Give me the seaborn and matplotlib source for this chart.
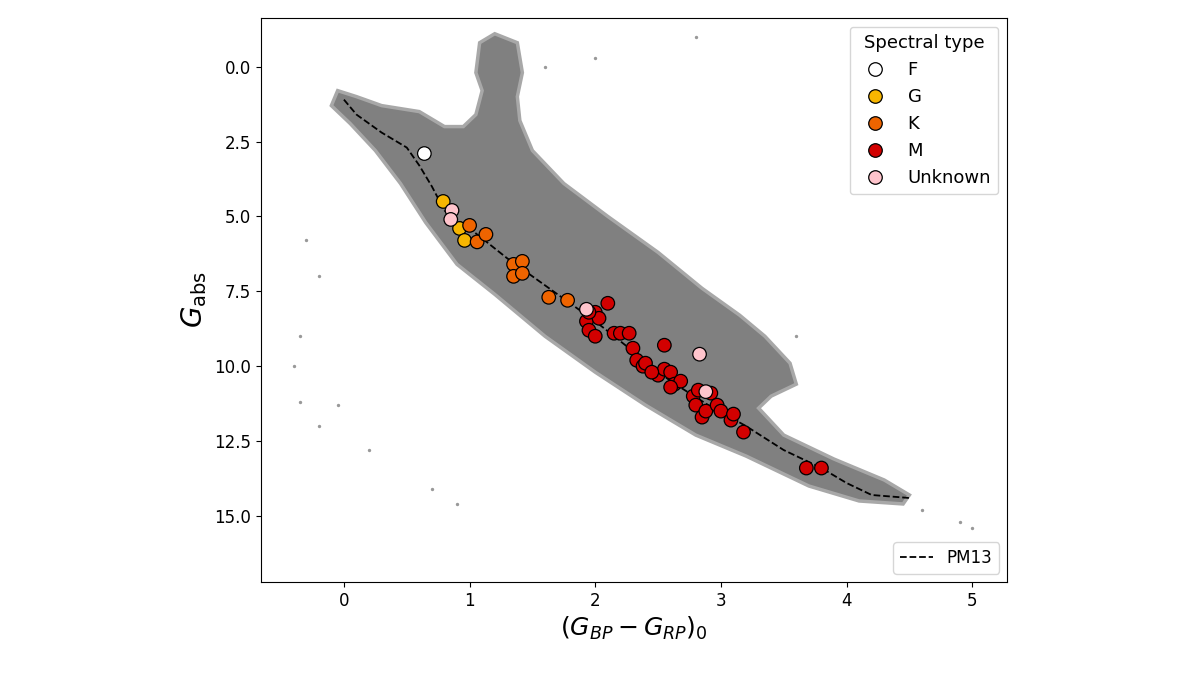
import matplotlib
matplotlib.use("Agg")
import matplotlib.pyplot as plt
import seaborn as sns
import pandas as pd

# outline of the gray background star cloud (colour, G_abs)
cloud_x = [-0.05,0.1,0.3,0.6,0.8,0.95,1.05,1.1,1.05,1.08,1.2,1.38,1.42,1.38,1.4,1.5,1.75,2.1,2.5,2.85,3.15,3.35,3.55,3.6,3.4,3.3,3.5,3.9,4.3,4.5,4.45,4.1,3.7,3.2,2.8,2.4,2.0,1.6,1.2,0.9,0.65,0.45,0.25,0.05,-0.1]
cloud_y = [0.8,1.0,1.3,1.5,2.0,2.0,1.6,0.8,0.2,-0.8,-1.1,-0.8,0.2,1.0,1.8,2.8,3.9,5.0,6.2,7.4,8.3,9.0,9.9,10.6,11.0,11.4,12.3,13.1,13.8,14.3,14.6,14.5,14.0,13.0,12.3,11.3,10.2,9.0,7.6,6.6,5.2,3.9,2.8,1.9,1.3]
# sparse outlying field stars
out_x = [-0.4,-0.35,-0.2,-0.05,-0.3,-0.2,-0.35,0.2,0.7,0.9,4.9,5.0,1.6,2.0,2.8,3.6,4.6]
out_y = [10.0,11.2,12.0,11.3,5.8,7.0,9.0,12.8,14.1,14.6,15.2,15.4,0.0,-0.3,-1.0,9.0,14.8]

# PM13 sequence
pm_x = [0.0,0.1,0.3,0.5,0.6,0.7,0.8,1.0,1.3,1.6,2.0,2.3,2.6,2.9,3.2,3.5,3.8,4.0,4.2,4.5]
pm_y = [1.1,1.6,2.2,2.7,3.3,4.0,4.8,5.4,6.4,7.3,8.5,9.5,10.5,11.3,12.0,12.8,13.4,13.9,14.3,14.4]

f_x = [0.64]; f_y = [2.9]
g_x = [0.79,0.92,0.96]; g_y = [4.5,5.4,5.8]
k_x = [1.0,1.06,1.13,1.35,1.42,1.35,1.42,1.63,1.78]
k_y = [5.3,5.85,5.6,6.6,6.5,7.0,6.9,7.7,7.8]
m_x = [1.93,1.95,2.0,2.03,2.1,2.0,2.15,2.2,2.27,2.3,2.33,2.38,2.4,2.5,2.55,2.55,2.6,2.63,2.68,2.78,2.8,2.85,2.88,2.92,2.97,3.0,3.08,3.1,3.18,3.68,3.8,2.82,1.95,2.45,2.6]
m_y = [8.5,8.8,8.2,8.4,7.9,9.0,8.9,8.9,8.9,9.4,9.8,10.0,9.9,10.3,9.3,10.1,10.2,10.6,10.5,11.0,11.3,11.7,11.5,10.9,11.3,11.5,11.8,11.6,12.2,13.4,13.4,10.8,8.2,10.2,10.7]
u_x = [1.93,2.83,2.88,0.86,0.85]; u_y = [8.1,9.6,10.85,4.8,5.1]

types = ["F","G","K","M","Unknown"]
colors = {"F":"#ffffff","G":"#f7b500","K":"#ee6400","M":"#d20000","Unknown":"#ffc4cc"}
stars = pd.concat([
    pd.DataFrame({"x":xs,"y":ys,"Spectral type":t})
    for t,xs,ys in [("F",f_x,f_y),("G",g_x,g_y),("K",k_x,k_y),("M",m_x,m_y),("Unknown",u_x,u_y)]
])

fig = plt.figure(figsize=(12,6.75), dpi=100)
ax = fig.add_axes([0.2175,0.138,0.622,0.836])
ax.fill(cloud_x, cloud_y, color="#808080", lw=2.5, ec="#a8a8a8", zorder=1)
ax.scatter(out_x, out_y, s=2, color="#999999", zorder=1)
pm_df = pd.DataFrame({"x":pm_x,"y":pm_y})
sns.lineplot(data=pm_df, x="x", y="y", sort=False, color="black", ls="--", lw=1.3, ax=ax, zorder=2, label="PM13")
line_handles, line_labels = ax.get_legend_handles_labels()
if ax.get_legend():
    ax.get_legend().remove()
sns.scatterplot(data=stars, x="x", y="y", hue="Spectral type", hue_order=types, palette=colors,
                s=95, edgecolor="black", linewidth=0.9, ax=ax, zorder=3, legend=True)
h, l = ax.get_legend_handles_labels()
sh = [hh for hh, ll in zip(h, l) if ll in types]
sl = [ll for ll in l if ll in types]
leg1 = ax.legend(sh, sl, title="Spectral type", loc="upper right", fontsize=13, title_fontsize=13)
ax.add_artist(leg1)
ax.legend(line_handles, line_labels, loc="lower right", fontsize=12)

ax.set_xlim(-0.66, 5.28)
ax.set_ylim(17.2, -1.64)
ax.set_yticks([0,2.5,5,7.5,10,12.5,15])
ax.set_xticks([0,1,2,3,4,5])
ax.tick_params(labelsize=12)
ax.set_xlabel(r"$(G_{BP}-G_{RP})_0$", fontsize=18)
ax.set_ylabel(r"$G_{\rm abs}$", fontsize=20)
fig.savefig("out.png", dpi=100)
